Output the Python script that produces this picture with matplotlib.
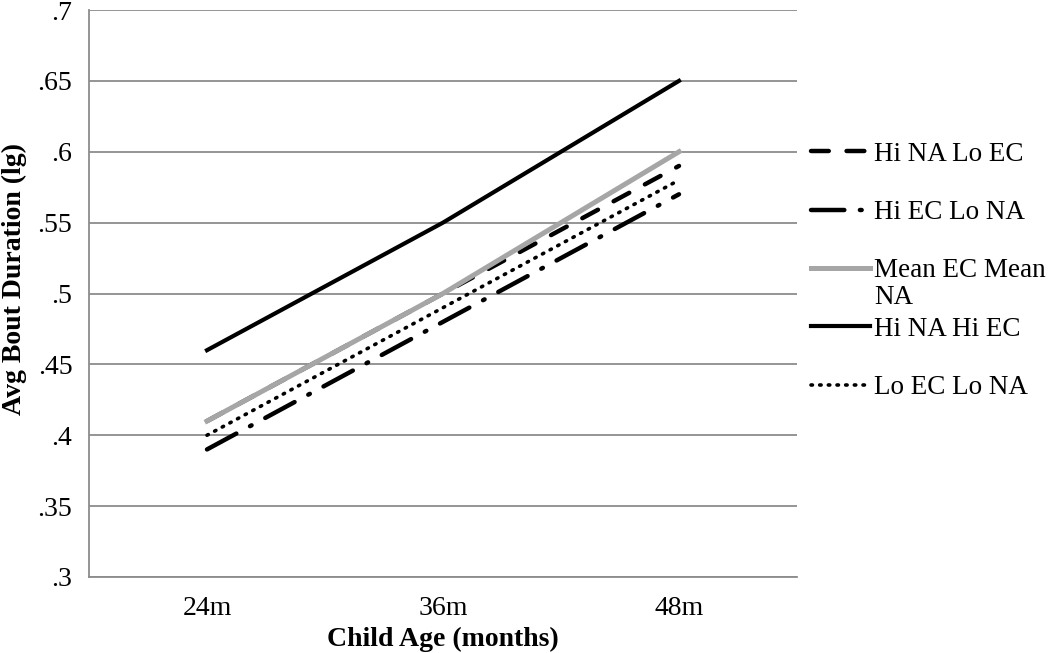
import numpy as np
import matplotlib
matplotlib.use("Agg")
import matplotlib.pyplot as plt

plt.rcParams['font.family'] = ['Liberation Serif', 'DejaVu Serif']

# data
ages = ['24m', '36m', '48m']
hi_na_lo_ec = [0.41, 0.50, 0.59]
hi_ec_lo_na = [0.39, 0.48, 0.57]
mean_ec_mean_na = [0.41, 0.50, 0.60]
hi_na_hi_ec = [0.46, 0.55, 0.65]
lo_ec_lo_na = [0.40, 0.49, 0.58]
y_ticks = [0.3, 0.35, 0.4, 0.45, 0.5, 0.55, 0.6, 0.65, 0.7]
y_ticklabels = ['.3', '.35', '.4', '.45', '.5', '.55', '.6', '.65', '.7']

fs = 20

fig = plt.figure(figsize=(10.5, 6.53), dpi=100)
ax = fig.add_axes([89/1050, 1-577/653, (797-89)/1050, (577-10)/653])

x = np.arange(len(ages))
ax.plot(x, hi_na_lo_ec, color='black', lw=3.2, dashes=(4, 4),
        dash_capstyle='round', label='Hi NA Lo EC')
ax.plot(x, hi_ec_lo_na, color='black', lw=3.2, dashes=(7.5, 3.5, 0.4, 3.5),
        dash_capstyle='round', label='Hi EC Lo NA')
ax.plot(x, mean_ec_mean_na, color='#a6a6a6', lw=3.6, label='Mean EC Mean')
ax.plot(x, hi_na_hi_ec, color='black', lw=3.0, label='Hi NA Hi EC')
ax.plot(x, lo_ec_lo_na, color='black', lw=2.6, dashes=(0.4, 2.0),
        dash_capstyle='round', label='Lo EC Lo NA')

ax.set_xlim(-0.5, 2.5)
ax.set_ylim(0.3, 0.7)
ax.set_xticks(x)
ax.set_xticklabels(ages, fontsize=fs)
ax.set_yticks(y_ticks)
ax.set_yticklabels(y_ticklabels, fontsize=fs)
ax.tick_params(length=0, pad=12)
ax.tick_params(axis='x', pad=14)

ax.grid(axis='y', color='#8c8c8c', lw=1.3)
ax.set_axisbelow(True)
for s in ['top', 'right']:
    ax.spines[s].set_visible(False)
for s in ['left', 'bottom']:
    ax.spines[s].set_color('#8c8c8c')
    ax.spines[s].set_linewidth(1.3)

ax.set_xlabel('Child Age (months)', fontsize=fs, fontweight='bold', labelpad=4)
ax.set_ylabel('Avg Bout Duration (lg)', fontsize=fs, fontweight='bold')
ax.yaxis.set_label_coords(-62/708, 0.525)

leg = ax.legend(loc='upper left', bbox_to_anchor=(800/1050, 1-131/653),
                bbox_transform=fig.transFigure, frameon=False, fontsize=19.5,
                handlelength=2.2, handletextpad=0.15, labelspacing=1.23,
                borderaxespad=0)

# the wrapped tail of the third label, spilling below its entry like the original
fig.canvas.draw()
bb = leg.get_texts()[2].get_window_extent()
fig.text(bb.x0, bb.y0 - 2, 'NA', fontsize=19.5, ha='left', va='top',
         transform=None)

fig.savefig('out.png', dpi=100)
